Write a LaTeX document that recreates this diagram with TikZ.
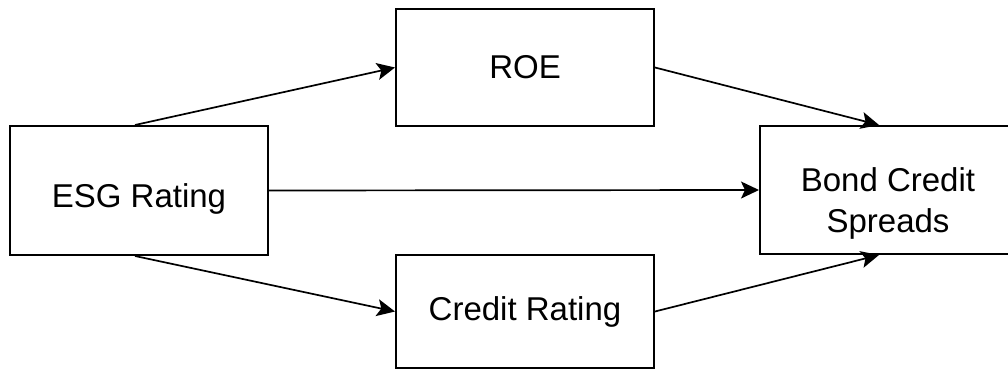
\documentclass[tikz,border=0pt]{standalone}
\usepackage{fontspec}
\setmainfont{Liberation Sans}
\usepackage{tikz}
\usetikzlibrary{positioning, arrows.meta}

\begin{document}
\begin{tikzpicture}[x=1pt, y=-1pt,
    varbox/.style={draw, line width=2pt, font=\fontsize{33}{41}\selectfont, inner sep=0pt},
    path/.style={-{Stealth[length=18pt, width=17pt, inset=4pt]}, line width=1.7pt}]

    % === CADRE ===
    \useasboundingbox (0,0) rectangle (1008,371);

    % === VARIABLES ===
    \node[varbox, minimum width=258pt, minimum height=129pt] (esg) at (139, 190.5)
        {\raisebox{-8pt}[\height][\depth]{ESG Rating}};
    \node[varbox, minimum width=258pt, minimum height=117pt] (roe) at (525, 67.5) {ROE};
    \node[varbox, minimum width=258pt, minimum height=113pt] (cr) at (525, 311.5) {Credit Rating};
    \node[varbox, minimum width=256pt, minimum height=128pt] (bcs) at (888, 190)
        {\raisebox{-14pt}[\height][\depth]{\begin{tabular}{@{}c@{}}Bond Credit\\Spreads\end{tabular}}};

    % === CHEMINS ===
    \draw[path] ([xshift=-4pt]esg.north) -- (roe.west);
    \draw[path] (roe.east) -- ([xshift=-9pt]bcs.north);
    \draw[path] (esg.east) -- (bcs.west);
    \draw[path] ([xshift=-4pt]esg.south) -- (cr.west);
    \draw[path] (cr.east) -- ([xshift=-9pt]bcs.south);

\end{tikzpicture}
\end{document}
